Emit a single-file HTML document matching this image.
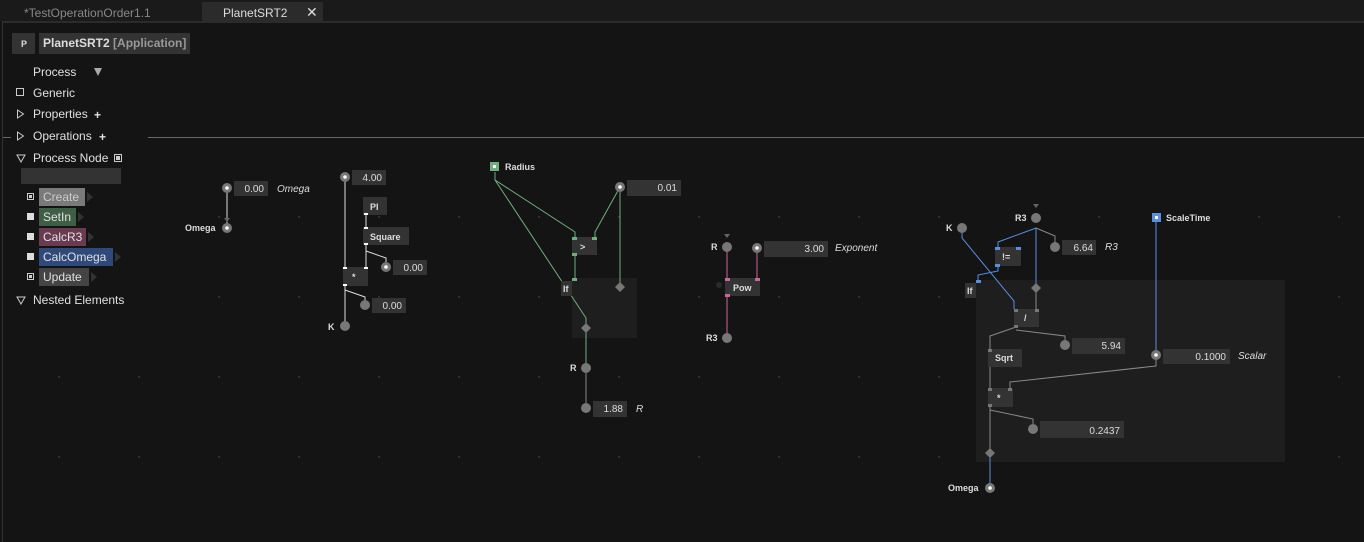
<!DOCTYPE html>
<html><head><style>
body{margin:0;width:1364px;height:542px;background:#141414;overflow:hidden;font-family:"Liberation Sans",sans-serif;}
svg{position:absolute;left:0;top:0}
text{font-family:"Liberation Sans",sans-serif;font-size:10px;fill:#ddd}
.b{font-weight:bold;font-size:9px}
.i{font-style:italic;font-size:10px;fill:#ddd}
.s{font-size:12px;fill:#e0e0e0}
</style></head><body>
<svg width="1364" height="542" viewBox="0 0 1364 542">
<!-- grid dots -->
<g fill="#555">
<circle cx="219" cy="217" r="0.7"/><circle cx="299" cy="217" r="0.7"/><circle cx="379" cy="217" r="0.7"/><circle cx="459" cy="217" r="0.7"/><circle cx="539" cy="217" r="0.7"/><circle cx="619" cy="217" r="0.7"/><circle cx="699" cy="217" r="0.7"/><circle cx="779" cy="217" r="0.7"/><circle cx="859" cy="217" r="0.7"/><circle cx="939" cy="217" r="0.7"/><circle cx="1019" cy="217" r="0.7"/><circle cx="1099" cy="217" r="0.7"/><circle cx="1179" cy="217" r="0.7"/><circle cx="1259" cy="217" r="0.7"/><circle cx="1339" cy="217" r="0.7"/>
<circle cx="219" cy="297" r="0.7"/><circle cx="299" cy="297" r="0.7"/><circle cx="379" cy="297" r="0.7"/><circle cx="459" cy="297" r="0.7"/><circle cx="539" cy="297" r="0.7"/><circle cx="699" cy="297" r="0.7"/><circle cx="779" cy="297" r="0.7"/><circle cx="859" cy="297" r="0.7"/><circle cx="939" cy="297" r="0.7"/><circle cx="1339" cy="297" r="0.7"/>
<circle cx="59" cy="377" r="0.7"/><circle cx="139" cy="377" r="0.7"/><circle cx="219" cy="377" r="0.7"/><circle cx="299" cy="377" r="0.7"/><circle cx="379" cy="377" r="0.7"/><circle cx="459" cy="377" r="0.7"/><circle cx="539" cy="377" r="0.7"/><circle cx="619" cy="377" r="0.7"/><circle cx="699" cy="377" r="0.7"/><circle cx="779" cy="377" r="0.7"/><circle cx="859" cy="377" r="0.7"/><circle cx="939" cy="377" r="0.7"/><circle cx="1339" cy="377" r="0.7"/>
<circle cx="59" cy="457" r="0.7"/><circle cx="139" cy="457" r="0.7"/><circle cx="219" cy="457" r="0.7"/><circle cx="299" cy="457" r="0.7"/><circle cx="379" cy="457" r="0.7"/><circle cx="459" cy="457" r="0.7"/><circle cx="539" cy="457" r="0.7"/><circle cx="619" cy="457" r="0.7"/><circle cx="699" cy="457" r="0.7"/><circle cx="779" cy="457" r="0.7"/><circle cx="859" cy="457" r="0.7"/><circle cx="939" cy="457" r="0.7"/><circle cx="1339" cy="457" r="0.7"/>
</g>
<!-- tabs -->
<rect x="0" y="0" width="1364" height="21" fill="#1a1a1a"/>
<rect x="202" y="2" width="121" height="19" fill="#2b2b2b"/>
<text x="24" y="17" style="font-size:12px;fill:#888">*TestOperationOrder1.1</text>
<text x="223" y="17" style="font-size:12px;fill:#ddd">PlanetSRT2</text>
<text x="306" y="17" style="font-size:14px;fill:#ddd">✕</text>
<line x1="2" y1="22" x2="1364" y2="22" stroke="#2b2b2b" stroke-width="2"/>
<line x1="2.5" y1="22" x2="2.5" y2="542" stroke="#333"/>
<line x1="148" y1="137.5" x2="1364" y2="137.5" stroke="#666"/>
<line x1="3" y1="137.5" x2="11" y2="137.5" stroke="#666"/>
<!-- sidebar -->
<rect x="12" y="33" width="23" height="21" fill="#333"/><text x="21" y="47" class="b">P</text>
<rect x="39" y="33" width="151" height="21" fill="#333"/>
<text x="43" y="47" style="font-size:12px;font-weight:bold;fill:#ddd">PlanetSRT2 <tspan fill="#999">[Application]</tspan></text>
<text x="33" y="76" class="s">Process</text><path d="M94 68h8l-4 8z" fill="#aaa"/>
<rect x="16.5" y="88.5" width="7" height="7" fill="none" stroke="#ccc"/><text x="33" y="97" class="s">Generic</text>
<path d="M17.5 110v8l6-4z" fill="none" stroke="#ccc"/><text x="33" y="118" class="s">Properties</text><text x="94" y="119" class="s" style="font-weight:bold">+</text>
<path d="M17.5 132v8l6-4z" fill="none" stroke="#ccc"/><text x="33" y="140" class="s">Operations</text><text x="99" y="141" class="s" style="font-weight:bold">+</text>
<path d="M17 155h8l-4 7z" fill="none" stroke="#ccc"/><text x="33" y="162" class="s">Process Node</text><rect x="114.5" y="154.5" width="7" height="7" fill="none" stroke="#ccc"/><rect x="116" y="156" width="4" height="4" fill="#ccc"/>
<rect x="21" y="168" width="100" height="16" fill="#333"/>
<rect x="27.5" y="193.5" width="6" height="6" fill="none" stroke="#ccc"/><rect x="29" y="195" width="3" height="3" fill="#ccc"/>
<rect x="39" y="188" width="46" height="18" fill="#7a7a7a"/><text x="43" y="201" class="s" style="fill:#ccc">Create</text><path d="M87 192v10l6-5z" fill="#333"/>
<rect x="27" y="213" width="7" height="7" fill="#ddd"/>
<rect x="39" y="208" width="37" height="18" fill="#3e5e46"/><text x="43" y="221" class="s">SetIn</text><path d="M78 212v10l6-5z" fill="#333"/>
<rect x="27" y="233" width="7" height="7" fill="#ddd"/>
<rect x="39" y="228" width="47" height="18" fill="#6a3a50"/><text x="43" y="241" class="s">CalcR3</text><path d="M88 232v10l6-5z" fill="#333"/>
<rect x="27" y="253" width="7" height="7" fill="#ddd"/>
<rect x="39" y="248" width="74" height="18" fill="#2f4a7a"/><text x="43" y="261" class="s">CalcOmega</text><path d="M115 252v10l6-5z" fill="#333"/>
<rect x="27.5" y="273.5" width="6" height="6" fill="none" stroke="#ccc"/><rect x="29" y="275" width="3" height="3" fill="#ccc"/>
<rect x="39" y="268" width="50" height="18" fill="#444"/><text x="43" y="281" class="s">Update</text><path d="M91 272v10l6-5z" fill="#333"/>
<path d="M17 297h8l-4 7z" fill="none" stroke="#ccc"/><text x="33" y="304" class="s">Nested Elements</text>

<!-- containers -->
<rect x="572" y="278" width="65" height="60" fill="#1e1e1e"/>
<rect x="976" y="280" width="309" height="182" fill="#1e1e1e"/>

<!-- left cluster wires -->
<g stroke="#ddd" fill="none">
<line x1="227" y1="188" x2="227" y2="224"/>
<line x1="345" y1="177" x2="345" y2="268"/>
<line x1="366" y1="214" x2="366" y2="228"/>
<path d="M366 244v7l20 7v4"/>
<line x1="366" y1="244" x2="366" y2="268"/>
<line x1="345" y1="285" x2="345" y2="326"/>
<path d="M345 290l20 7v8"/>
</g>
<path d="M224 218h6l-3 4z" fill="#666"/>
<!-- pins -->
<g fill="#777">
<circle cx="227" cy="188" r="5"/><circle cx="227" cy="228" r="5"/><circle cx="345" cy="177" r="5"/><circle cx="386" cy="267" r="5"/>
<circle cx="365" cy="305" r="5"/><circle cx="345" cy="326" r="5"/>
</g>
<g fill="#fff"><circle cx="227" cy="188" r="1.8"/><circle cx="227" cy="228" r="1.8"/><circle cx="345" cy="177" r="1.8"/><circle cx="386" cy="267" r="1.8"/></g>
<g fill="#333">
<rect x="234" y="181" width="34" height="15"/><rect x="352" y="170" width="34" height="15"/><rect x="363" y="197" width="24" height="18"/>
<rect x="363" y="227" width="46" height="18"/><rect x="343" y="267" width="25" height="19"/><rect x="393" y="260" width="34" height="15"/><rect x="372" y="298" width="34" height="15"/>
</g>
<g fill="#fff"><rect x="343" y="267" width="4" height="2"/><rect x="364" y="267" width="4" height="2"/><rect x="343" y="284" width="4" height="2"/><rect x="364" y="213" width="4" height="2"/><rect x="364" y="227" width="4" height="2"/><rect x="364" y="243" width="4" height="2"/></g>
<text x="264" y="192" text-anchor="end">0.00</text><text x="277" y="192" class="i">Omega</text>
<text x="185" y="231" class="b">Omega</text>
<text x="382" y="181" text-anchor="end">4.00</text>
<text x="370" y="210" class="b">PI</text><text x="370" y="240" class="b">Square</text>
<text x="352" y="280" class="b">*</text>
<text x="423" y="271" text-anchor="end">0.00</text><text x="402" y="309" text-anchor="end">0.00</text>
<text x="328" y="330" class="b">K</text>

<!-- middle green -->
<g stroke="#6fae7f" fill="none">
<path d="M495 172v8l80 52v6"/><path d="M495 180l91 138v10"/>
<path d="M620 187l-25 45v6"/><line x1="620" y1="187" x2="620" y2="286"/>
<line x1="575" y1="255" x2="575" y2="280"/><line x1="586" y1="328" x2="586" y2="368"/>
</g>
<line x1="586" y1="368" x2="586" y2="408" stroke="#888"/>
<rect x="490" y="162" width="9" height="9" fill="#6fae7f"/><rect x="493" y="165" width="3" height="3" fill="#fff"/>
<text x="505" y="170" class="b">Radius</text>
<rect x="572" y="237" width="25" height="18" fill="#333"/>
<g fill="#6fae7f"><rect x="572" y="237" width="5" height="3"/><rect x="592" y="237" width="5" height="3"/><rect x="572" y="253" width="5" height="3"/><rect x="572" y="278" width="5" height="3"/></g>
<text x="580" y="250" class="b">&gt;</text>
<rect x="561" y="281" width="11" height="15" fill="#333"/><text x="563" y="292" class="b">If</text>
<path d="M620 282l5 5-5 5-5-5z M586 323l5 5-5 5-5-5z" fill="#777"/>
<circle cx="620" cy="187" r="5" fill="#777"/><circle cx="620" cy="187" r="1.8" fill="#fff"/>
<rect x="627" y="180" width="54" height="16" fill="#333"/><text x="677" y="191" text-anchor="end">0.01</text>
<circle cx="586" cy="368" r="5" fill="#777"/><text x="570" y="371" class="b">R</text>
<circle cx="586" cy="408" r="5" fill="#777"/>
<rect x="593" y="401" width="34" height="16" fill="#333"/><text x="623" y="412" text-anchor="end">1.88</text><text x="636" y="412" class="i">R</text>

<!-- Pow -->
<g stroke="#c9679a"><line x1="727" y1="247" x2="727" y2="338"/><line x1="757" y1="248" x2="757" y2="280"/></g>
<path d="M724 234h6l-3 4z" fill="#666"/>
<circle cx="727" cy="247" r="5" fill="#777"/><text x="711" y="250" class="b">R</text>
<circle cx="757" cy="248" r="5" fill="#777"/><circle cx="757" cy="248" r="1.8" fill="#fff"/>
<rect x="764" y="241" width="64" height="16" fill="#333"/><text x="824" y="252" text-anchor="end">3.00</text><text x="835" y="251" class="i">Exponent</text>
<rect x="725" y="278" width="35" height="18" fill="#333"/>
<g fill="#c9679a"><rect x="725" y="278" width="5" height="3"/><rect x="755" y="278" width="5" height="3"/><rect x="725" y="294" width="5" height="3"/></g>
<text x="733" y="291" class="b">Pow</text>
<circle cx="719" cy="285" r="3" fill="#2a2a2a"/>
<circle cx="727" cy="338" r="5" fill="#777"/><text x="706" y="341" class="b">R3</text>

<!-- right cluster -->
<g stroke="#5a8fe0" fill="none">
<path d="M962 228v10l52 63v8"/>
<path d="M1036 228l-38 14v6"/>
<line x1="1036" y1="228" x2="1036" y2="286"/>
<path d="M998 266v5l-20 4v8"/>
<line x1="1156" y1="222" x2="1156" y2="355"/>
<line x1="990" y1="455" x2="990" y2="488"/>
</g>
<g stroke="#888" fill="none">
<path d="M1036 228l19 8v11"/>
<line x1="1036" y1="288" x2="1036" y2="310"/>
<path d="M1016 327l-26 9v14"/><path d="M1016 330l49 6v9"/>
<line x1="990" y1="366" x2="990" y2="389"/>
<path d="M1156 355v11l-146 16v7"/>
<line x1="990" y1="406" x2="990" y2="452"/><path d="M990 410l43 9v10"/>
</g>
<path d="M1033 204h6l-3 4z" fill="#666"/>
<circle cx="1036" cy="218" r="5" fill="#777"/><text x="1015" y="221" class="b">R3</text>
<circle cx="962" cy="228" r="5" fill="#777"/><text x="946" y="231" class="b">K</text>
<rect x="1152" y="213" width="9" height="9" fill="#5a8fe0"/><rect x="1155" y="216" width="3" height="3" fill="#fff"/>
<text x="1166" y="221" class="b">ScaleTime</text>
<rect x="995" y="247" width="26" height="19" fill="#333"/>
<g fill="#5a8fe0"><rect x="995" y="247" width="5" height="3"/><rect x="1016" y="247" width="5" height="3"/><rect x="995" y="264" width="5" height="3"/><rect x="976" y="280" width="5" height="3"/></g>
<text x="1002" y="260" class="b">!=</text>
<circle cx="1055" cy="247" r="5" fill="#777"/><rect x="1062" y="240" width="34" height="15" fill="#333"/><text x="1093" y="251" text-anchor="end">6.64</text><text x="1105" y="250" class="i">R3</text>
<rect x="965" y="283" width="11" height="15" fill="#333"/><text x="967" y="294" class="b">If</text>
<path d="M1036 283l5 5-5 5-5-5z M990 448l5 5-5 5-5-5z" fill="#777"/>
<rect x="1014" y="309" width="25" height="18" fill="#333"/><text x="1024" y="321" class="b">/</text>
<g fill="#777"><rect x="1014" y="309" width="4" height="3"/><rect x="1035" y="309" width="4" height="3"/><rect x="1014" y="325" width="4" height="3"/>
<rect x="988" y="349" width="4" height="3"/><rect x="988" y="388" width="4" height="3"/><rect x="1008" y="388" width="4" height="3"/><rect x="988" y="404" width="4" height="3"/></g>
<circle cx="1065" cy="345" r="5" fill="#777"/><rect x="1072" y="338" width="53" height="16" fill="#333"/><text x="1121" y="349" text-anchor="end">5.94</text>
<rect x="988" y="349" width="34" height="18" fill="#333"/><rect x="988" y="349" width="4" height="3" fill="#777"/><text x="995" y="361" class="b">Sqrt</text>
<circle cx="1156" cy="355" r="5" fill="#777"/><circle cx="1156" cy="355" r="1.8" fill="#fff"/>
<rect x="1163" y="349" width="67" height="15" fill="#333"/><text x="1226" y="360" text-anchor="end">0.1000</text><text x="1238" y="359" class="i">Scalar</text>
<rect x="988" y="388" width="25" height="19" fill="#333"/><g fill="#777"><rect x="988" y="388" width="4" height="3"/><rect x="1008" y="388" width="4" height="3"/><rect x="988" y="404" width="4" height="3"/></g>
<text x="997" y="401" class="b">*</text>
<circle cx="1033" cy="429" r="5" fill="#777"/><rect x="1040" y="421" width="84" height="17" fill="#333"/><text x="1120" y="434" text-anchor="end">0.2437</text>
<circle cx="990" cy="488" r="5" fill="#777"/><circle cx="990" cy="488" r="1.8" fill="#fff"/><text x="948" y="491" class="b">Omega</text>
</svg>
</body></html>
